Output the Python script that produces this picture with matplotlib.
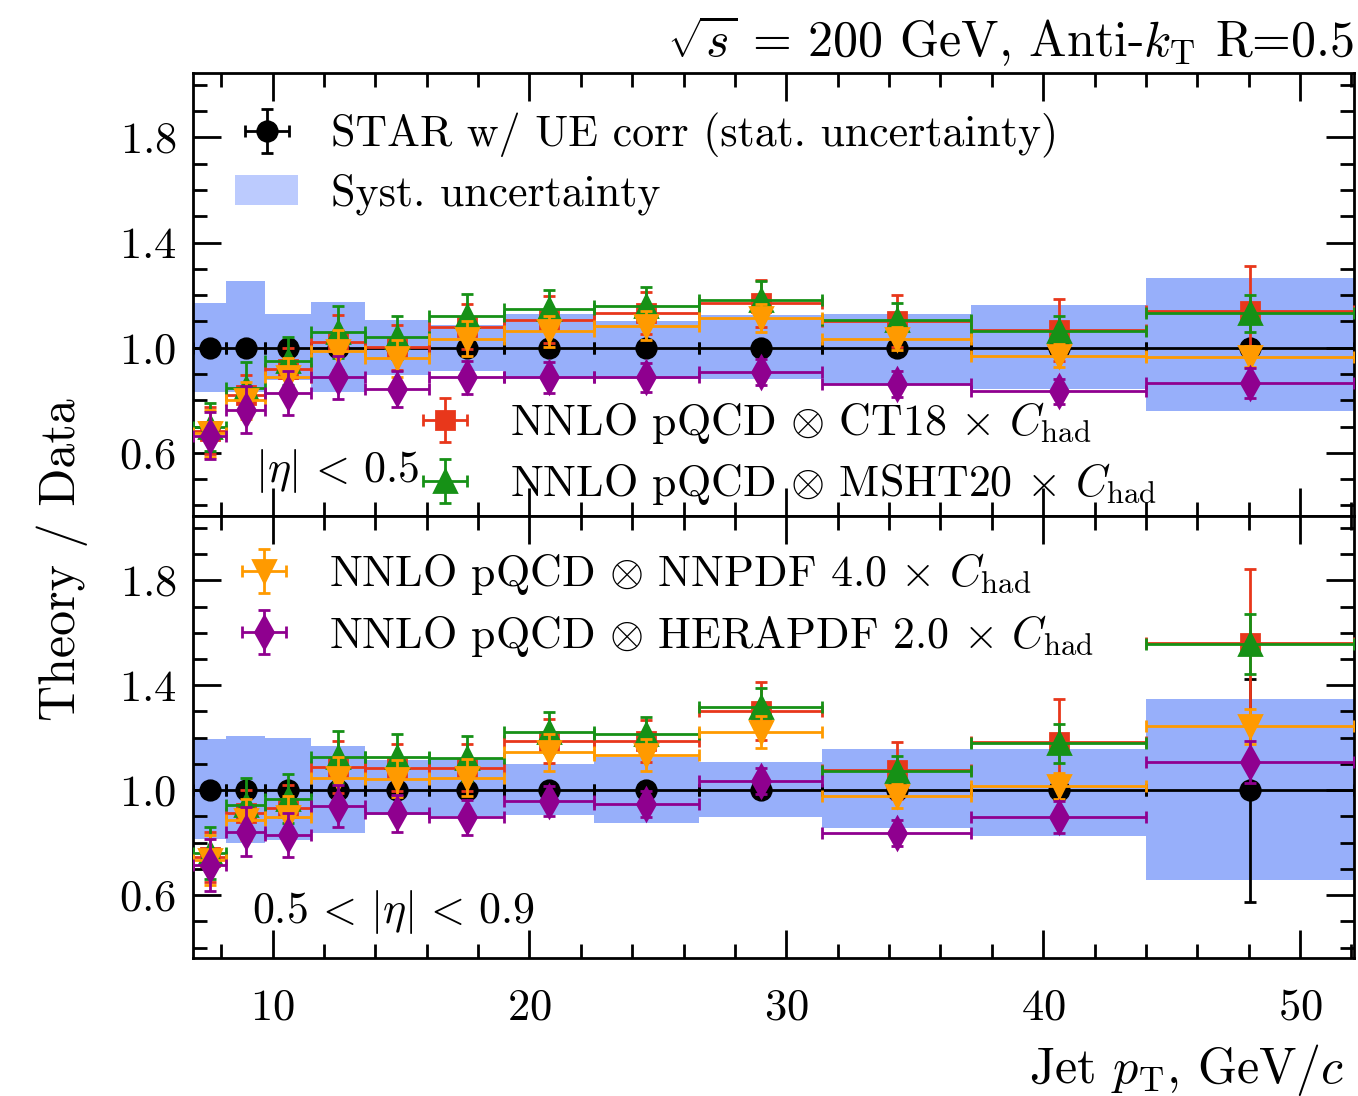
import numpy as np
import matplotlib

matplotlib.use("Agg")
import matplotlib.pyplot as plt
from matplotlib.patches import Patch
from matplotlib.ticker import FixedLocator, MultipleLocator

plt.rcParams["font.family"] = "serif"
plt.rcParams["font.serif"] = ["cmr10"]
plt.rcParams["mathtext.fontset"] = "cm"
plt.rcParams["axes.unicode_minus"] = False
plt.rcParams["axes.formatter.use_mathtext"] = True

# colours
C_STAR = "black"
C_CT18 = "#e8371b"
C_MSHT = "#169116"
C_NNPDF = "#ff9a00"
C_HERA = "#8f008f"
C_BAND = "#97affa"
C_BAND_LEG = "#bccbfe"

# jet pT bins (GeV/c)
pt_edges = [6.9, 8.2, 9.7, 11.5, 13.6, 16.1, 19.0, 22.5, 26.6, 31.4, 37.2, 44.0, 52.1]

# |eta| < 0.5
star_top = [1.0] * 12
star_err_top = [0.012, 0.01, 0.01, 0.01, 0.01, 0.01, 0.01, 0.01, 0.012, 0.02, 0.03, 0.03]
syst_lo_top = [0.83, 0.83, 0.877, 0.83, 0.896, 0.912, 0.88, 0.88, 0.88, 0.86, 0.842, 0.76]
syst_hi_top = [1.17, 1.255, 1.128, 1.175, 1.105, 1.086, 1.128, 1.10, 1.124, 1.128, 1.163, 1.265]
ct18_top = [0.684, 0.82, 0.919, 1.02, 1.001, 1.08, 1.107, 1.131, 1.169, 1.103, 1.067, 1.141]
ct18_top_err = [0.09, 0.075, 0.08, 0.104, 0.085, 0.085, 0.089, 0.08, 0.089, 0.099, 0.118, 0.171]
msht_top = [0.70, 0.845, 0.95, 1.061, 1.039, 1.122, 1.147, 1.16, 1.183, 1.107, 1.065, 1.131]
msht_top_err = [0.091, 0.10, 0.091, 0.099, 0.083, 0.083, 0.074, 0.072, 0.07, 0.062, 0.057, 0.07]
nnpdf_top = [0.674, 0.80, 0.887, 0.986, 0.96, 1.035, 1.062, 1.084, 1.112, 1.035, 0.97, 0.966]
nnpdf_top_err = [0.09, 0.07, 0.075, 0.08, 0.07, 0.065, 0.06, 0.055, 0.053, 0.045, 0.044, 0.04]
hera_top = [0.665, 0.764, 0.827, 0.887, 0.843, 0.887, 0.887, 0.887, 0.909, 0.862, 0.834, 0.866]
hera_top_err = [0.09, 0.089, 0.084, 0.083, 0.068, 0.064, 0.06, 0.054, 0.05, 0.05, 0.048, 0.057]

# 0.5 < |eta| < 0.9
star_bot = [1.0] * 12
star_err_bot = [0.012, 0.01, 0.01, 0.01, 0.01, 0.01, 0.012, 0.012, 0.015, 0.025, 0.035, 0.425]
syst_lo_bot = [0.812, 0.80, 0.81, 0.837, 0.905, 0.90, 0.905, 0.873, 0.898, 0.854, 0.825, 0.657]
syst_hi_bot = [1.193, 1.206, 1.197, 1.168, 1.114, 1.117, 1.099, 1.127, 1.108, 1.155, 1.155, 1.349]
ct18_bot = [0.746, 0.911, 0.93, 1.089, 1.086, 1.086, 1.188, 1.188, 1.302, 1.076, 1.182, 1.561]
ct18_bot_err = [0.095, 0.09, 0.09, 0.10, 0.09, 0.09, 0.085, 0.08, 0.11, 0.108, 0.164, 0.283]
msht_bot = [0.761, 0.945, 0.968, 1.127, 1.127, 1.121, 1.22, 1.213, 1.317, 1.072, 1.178, 1.556]
msht_bot_err = [0.099, 0.103, 0.095, 0.10, 0.086, 0.085, 0.077, 0.066, 0.072, 0.058, 0.074, 0.114]
nnpdf_bot = [0.733, 0.888, 0.898, 1.047, 1.044, 1.047, 1.144, 1.133, 1.222, 0.977, 1.015, 1.244]
nnpdf_bot_err = [0.095, 0.08, 0.08, 0.08, 0.07, 0.07, 0.07, 0.06, 0.061, 0.047, 0.05, 0.067]
hera_bot = [0.714, 0.841, 0.829, 0.939, 0.911, 0.896, 0.959, 0.947, 1.035, 0.837, 0.898, 1.108]
hera_bot_err = [0.10, 0.093, 0.083, 0.079, 0.07, 0.067, 0.058, 0.05, 0.05, 0.05, 0.06, 0.08]

LABEL_STAR = "STAR w/ UE corr (stat. uncertainty)"
LABEL_SYST = "Syst. uncertainty"
LABEL_CT18 = r"NNLO pQCD $\otimes$ CT18 $\times$ $C_{\rm had}$"
LABEL_MSHT = r"NNLO pQCD $\otimes$ MSHT20 $\times$ $C_{\rm had}$"
LABEL_NNPDF = r"NNLO pQCD $\otimes$ NNPDF 4.0 $\times$ $C_{\rm had}$"
LABEL_HERA = r"NNLO pQCD $\otimes$ HERAPDF 2.0 $\times$ $C_{\rm had}$"

edges = np.array(pt_edges)
centers = 0.5 * (edges[1:] + edges[:-1])
half_w = 0.5 * np.diff(edges)

FS = 15.8
ERR_KW = dict(linestyle="none", elinewidth=1.0, capsize=2.0, capthick=1.0)


def draw_panel(ax, star, star_err, lo, hi, series):
    lo = np.array(lo)
    hi = np.array(hi)
    ax.bar(edges[:-1], hi - lo, bottom=lo, width=np.diff(edges), align="edge",
           color=C_BAND, linewidth=0, zorder=1)
    h_star = ax.errorbar(centers, star, xerr=half_w, yerr=star_err, fmt="o", ms=7,
                         color=C_STAR, zorder=3, **ERR_KW)
    handles = [h_star]
    for z, (vals, errs, mk, ms, col) in enumerate(series):
        h = ax.errorbar(centers, vals, xerr=half_w, yerr=errs, fmt=mk, ms=ms,
                        color=col, zorder=4 + z, **ERR_KW)
        handles.append(h)
    ax.set_xlim(6.9, 52.1)
    ax.set_ylim(0.36, 2.045)
    ax.yaxis.set_major_locator(FixedLocator([0.6, 1.0, 1.4, 1.8]))
    ax.yaxis.set_minor_locator(MultipleLocator(0.1))
    ax.xaxis.set_major_locator(MultipleLocator(10))
    ax.xaxis.set_minor_locator(MultipleLocator(2))
    ax.tick_params(which="both", direction="in", top=True, right=True, width=1.0,
                   labelsize=16)
    ax.tick_params(which="major", length=10)
    ax.tick_params(which="minor", length=5)
    ax.tick_params(axis="y", pad=6)
    ax.tick_params(axis="x", pad=11)
    for sp in ax.spines.values():
        sp.set_linewidth(1.0)
    return handles


fig = plt.figure(figsize=(6.79, 5.48), dpi=200)
ax_top = fig.add_axes([0.14212, 0.52920, 0.85493, 0.40420])
ax_bot = fig.add_axes([0.14212, 0.12591, 0.85493, 0.40328], sharex=ax_top)

h_top = draw_panel(ax_top, star_top, star_err_top, syst_lo_top, syst_hi_top, [
    (ct18_top, ct18_top_err, "s", 6.5, C_CT18),
    (msht_top, msht_top_err, "^", 8, C_MSHT),
    (nnpdf_top, nnpdf_top_err, "v", 8, C_NNPDF),
    (hera_top, hera_top_err, "d", 8, C_HERA),
])
h_bot = draw_panel(ax_bot, star_bot, star_err_bot, syst_lo_bot, syst_hi_bot, [
    (ct18_bot, ct18_bot_err, "s", 6.5, C_CT18),
    (msht_bot, msht_bot_err, "^", 8, C_MSHT),
    (nnpdf_bot, nnpdf_bot_err, "v", 8, C_NNPDF),
    (hera_bot, hera_bot_err, "d", 8, C_HERA),
])
plt.setp(ax_top.get_xticklabels(), visible=False)

leg_kw = dict(loc="upper left", frameon=False, fontsize=FS, handlelength=1.45,
              handletextpad=0.75, labelspacing=0.35, borderpad=0, borderaxespad=0)
leg1 = ax_top.legend([h_top[0], Patch(color=C_BAND_LEG, linewidth=0)],
                     [LABEL_STAR, LABEL_SYST], bbox_to_anchor=(0.036, 0.91), **leg_kw)
ax_top.add_artist(leg1)
ax_top.legend([h_top[1], h_top[2]], [LABEL_CT18, LABEL_MSHT],
              bbox_to_anchor=(0.19, 0.262), **leg_kw)
ax_bot.legend([h_bot[3], h_bot[4]], [LABEL_NNPDF, LABEL_HERA],
              bbox_to_anchor=(0.034, 0.92), **leg_kw)

ax_top.text(9.3, 0.53, r"$|\eta| \,<\, 0.5$", fontsize=FS, va="center")
ax_bot.text(9.2, 0.535, r"$0.5 \,<\, |\eta| \,<\, 0.9$", fontsize=FS, va="center")

ax_top.text(1.0, 1.012, r"$\sqrt{s}$ = 200 GeV, Anti-$k_{\rm T}$ R=0.5",
            transform=ax_top.transAxes, ha="right", va="bottom", fontsize=18)
fig.text(0.046, 0.489, "Theory / Data", rotation=90, ha="center", va="center", fontsize=18)
fig.text(0.99, 0.024, r"Jet $p_{\rm T}$, GeV/$c$", ha="right", va="center", fontsize=18)

fig.savefig("out.png", dpi=200)
